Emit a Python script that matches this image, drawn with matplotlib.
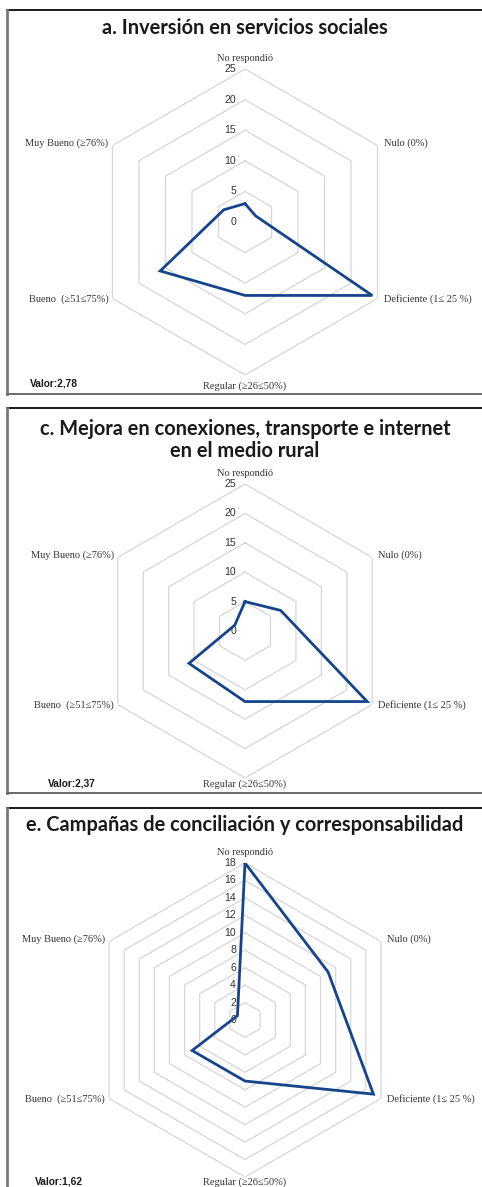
import numpy as np
import matplotlib
matplotlib.use("Agg")
import matplotlib.pyplot as plt
from matplotlib.lines import Line2D

W, H = 482, 1187

categories = ["No respondió", "Nulo (0%)", "Deficiente (1≤ 25 %)",
              "Regular (≥26≤50%)", "Bueno  (≥51≤75%)", "Muy Bueno (≥76%)"]
values_a = [3, 2, 24, 12, 16, 4]
values_c = [5, 7, 24, 12, 11, 2]
values_e = [18, 11, 17, 7, 7, 1]
titles = ["a. Inversión en servicios sociales",
          "c. Mejora en conexiones, transporte e internet\nen el medio rural",
          "e. Campañas de conciliación y corresponsabilidad"]
valor_labels = ["Valor:2,78", "Valor:2,37", "Valor:1,62"]
ticks_a = [0, 5, 10, 15, 20, 25]
ticks_c = [0, 5, 10, 15, 20, 25]
ticks_e = [0, 2, 4, 6, 8, 10, 12, 14, 16, 18]

LINE_COLOR = "#15448a"
GRID_COLOR = "#d6d6d6"

fig = plt.figure(figsize=(W / 100, H / 100), dpi=100)
fig.patch.set_facecolor("white")


def fx(x):
    return x / W


def fy(y):
    return 1 - y / H


def frame(top, bottom, left=7, right=490):
    fig.add_artist(Line2D([fx(left), fx(right)], [fy(top), fy(top)],
                          transform=fig.transFigure, color="#1a1a1a", lw=1.4))
    fig.add_artist(Line2D([fx(left), fx(left)], [fy(top), fy(bottom)],
                          transform=fig.transFigure, color="#7a7a7a", lw=2.0))
    if bottom < H:
        fig.add_artist(Line2D([fx(left), fx(right)], [fy(bottom), fy(bottom)],
                              transform=fig.transFigure, color="#6a6a6a", lw=1.4))


def label_fmt(bottom_off):
    return [
        dict(off=(0, 6), ha="center", va="bottom"),
        dict(off=(6, 2), ha="left", va="center"),
        dict(off=(6, -1), ha="left", va="center"),
        dict(off=(0, -bottom_off), ha="center", va="top"),
        dict(off=(-4, -1), ha="right", va="center"),
        dict(off=(-4, 2), ha="right", va="center"),
    ]


def radar(cx, cy, rx, ry, values, ticks, title, title_y, valor, valor_xy,
          top, bottom, bottom_off=6):
    frame(top, bottom)
    fig.text(fx(245), fy(title_y), title, ha="center", va="center",
             fontsize=14.4, fontfamily="Lato", fontweight="bold",
             color="#1a1a1a", linespacing=1.12)
    ax = fig.add_axes([fx(cx - rx), fy(cy + ry), 2 * rx / W, 2 * ry / H],
                      projection="polar")
    ax.set_aspect("auto")
    ax.set_theta_zero_location("N")
    ax.set_theta_direction(-1)
    n = len(categories)
    angles = np.linspace(0, 2 * np.pi, n, endpoint=False)
    closed = np.concatenate([angles, angles[:1]])
    rmax = ticks[-1]
    ax.set_ylim(0, rmax)
    ax.grid(False)
    ax.spines["polar"].set_visible(False)
    ax.set_xticks([])
    ax.set_yticks([])
    ax.patch.set_alpha(0)
    for t in ticks[1:]:
        ax.plot(closed, [t] * (n + 1), color=GRID_COLOR, lw=0.9, zorder=1)
    for t in ticks:
        ax.annotate(str(t), xy=(0, t), xytext=(-9, 0), textcoords="offset pixels",
                    ha="right", va="center", fontsize=7.6,
                    fontfamily="Liberation Sans", color="#333333", zorder=3)
    vals = list(values) + [values[0]]
    ax.plot(closed, vals, color=LINE_COLOR, lw=2.0, zorder=4,
            solid_joinstyle="miter")
    for ang, cat, f in zip(angles, categories, label_fmt(bottom_off)):
        ax.annotate(cat, xy=(ang, rmax), xytext=f["off"], textcoords="offset pixels",
                    ha=f["ha"], va=f["va"], fontsize=7.5,
                    fontfamily=["Liberation Serif", "DejaVu Serif"],
                    color="#333333", annotation_clip=False)
    fig.text(fx(valor_xy[0]), fy(valor_xy[1]), valor, ha="left", va="center",
             fontsize=7.3, fontfamily="Liberation Sans", fontweight="bold",
             color="#1a1a1a")


radar(245, 222, 153, 153, values_a, ticks_a, titles[0], 28, valor_labels[0],
      (30, 384), 10, 394)
radar(245, 631, 147, 147, values_c, ticks_c, titles[1], 440, valor_labels[1],
      (48, 783), 408, 793, bottom_off=1)
radar(245, 1020, 157, 157, values_e, ticks_e, titles[2], 825, valor_labels[2],
      (35, 1181), 808, H + 10, bottom_off=0)

fig.savefig("out.png", dpi=100, facecolor="white")
